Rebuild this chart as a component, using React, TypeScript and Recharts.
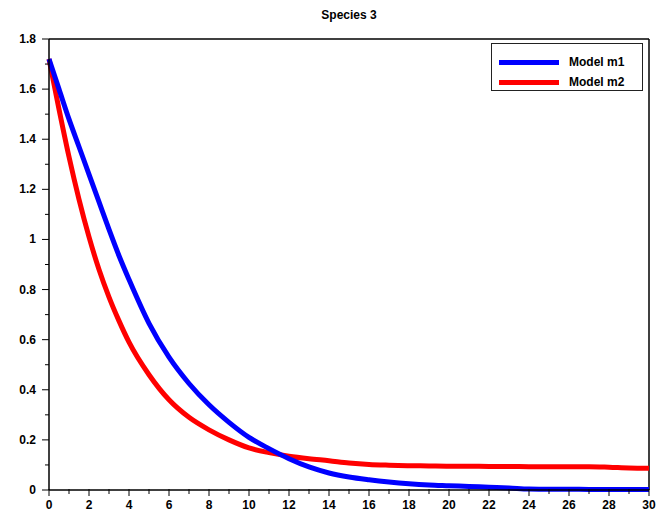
import { Legend, Line, LineChart, ReferenceLine, XAxis, YAxis } from 'recharts';

// time points (extra half steps where the curves bend fast)
const time = [0, 0.5, 1, 1.5, 2, 2.5, 3, 3.5, 4, 5, 6, 7, 8, 9, 10, 11, 12, 13, 14, 15, 16, 17, 18, 19, 20, 21, 22, 23, 24, 25, 26, 27, 28, 29, 30];
const modelM1 = [1.72, 1.6, 1.48, 1.37, 1.26, 1.15, 1.04, 0.935, 0.84, 0.665, 0.53, 0.425, 0.34, 0.27, 0.21, 0.165, 0.125, 0.092, 0.068, 0.052, 0.041, 0.032, 0.025, 0.02, 0.017, 0.014, 0.011, 0.008, 0.004, 0.003, 0.003, 0.002, 0.002, 0.002, 0.002];
const modelM2 = [1.72, 1.52, 1.33, 1.16, 1.01, 0.88, 0.77, 0.675, 0.59, 0.46, 0.36, 0.29, 0.24, 0.2, 0.168, 0.149, 0.135, 0.125, 0.117, 0.108, 0.102, 0.099, 0.097, 0.096, 0.095, 0.095, 0.094, 0.094, 0.093, 0.093, 0.093, 0.093, 0.091, 0.088, 0.087];

const xTicks = [0, 1, 2, 3, 4, 5, 6, 7, 8, 9, 10, 11, 12, 13, 14, 15, 16, 17, 18, 19, 20, 21, 22, 23, 24, 25, 26, 27, 28, 29, 30];
const yTicks = [0, 0.1, 0.2, 0.3, 0.4, 0.5, 0.6, 0.7, 0.8, 0.9, 1, 1.1, 1.2, 1.3, 1.4, 1.5, 1.6, 1.7, 1.8];

const data = time.map((t, i) => ({ t, m1: modelM1[i], m2: modelM2[i] }));

const font = '"Liberation Sans", Arial, sans-serif';

function XTick({ x, y, payload }: any) {
  const v = payload.value;
  const major = Math.round(v) % 2 === 0;
  return (
    <g>
      <line x1={x} x2={x} y1={y - 1} y2={y + (major ? 6 : 4)} stroke="#000" />
      {major && (
        <text x={x} y={y + 19} textAnchor="middle" fontSize={12} fontWeight="bold" fontFamily={font} fill="#000">
          {v}
        </text>
      )}
    </g>
  );
}

function YTick({ x, y, payload }: any) {
  const v = payload.value;
  const major = Math.round(v * 10) % 2 === 0;
  return (
    <g>
      <line x1={x - (major ? 7 : 4)} x2={x} y1={y} y2={y} stroke="#000" />
      {major && (
        <text x={x - 13} y={y + 4} textAnchor="end" fontSize={12} fontWeight="bold" fontFamily={font} fill="#000">
          {Number(v.toFixed(1)).toString()}
        </text>
      )}
    </g>
  );
}

function LegendBox() {
  const items = [
    { name: 'Model m1', color: '#0000ff' },
    { name: 'Model m2', color: '#ff0000' },
  ];
  return (
    <div style={{ border: '1.5px solid #222', background: '#fff', width: 152, height: 48, boxSizing: 'border-box', padding: '8px 0 0 7px' }}>
      {items.map((it) => (
        <div key={it.name} style={{ display: 'flex', alignItems: 'center', height: 20 }}>
          <div style={{ width: 60, height: 5, background: it.color }} />
          <span style={{ marginLeft: 10, fontFamily: font, fontWeight: 'bold', fontSize: 12, color: '#000' }}>{it.name}</span>
        </div>
      ))}
    </div>
  );
}

export default function App() {
  return (
    <div style={{ position: 'absolute', left: 0, top: 0, width: 666, height: 517, background: '#fff' }}>
      <div style={{ position: 'absolute', left: 49, width: 600, top: 8, textAlign: 'center', fontFamily: font, fontWeight: 'bold', fontSize: 12 }}>
        Species 3
      </div>
      <LineChart width={666} height={517} data={data} margin={{ top: 39, right: 17, bottom: 0, left: 0 }}>
        <XAxis
          dataKey="t"
          type="number"
          domain={[0, 30]}
          ticks={xTicks}
          interval={0}
          height={27}
          tickSize={0}
          tickMargin={0}
          tick={<XTick />}
          stroke="#000"
          strokeWidth={1.5}
        />
        <YAxis
          type="number"
          domain={[0, 1.8]}
          ticks={yTicks}
          interval={0}
          width={49}
          tickSize={0}
          tickMargin={0}
          tick={<YTick />}
          stroke="#000"
          strokeWidth={1.5}
        />
        <ReferenceLine y={1.8} stroke="#000" strokeWidth={1.5} />
        <ReferenceLine x={30} stroke="#000" strokeWidth={1.5} />
        <Line type="monotone" dataKey="m2" stroke="#ff0000" strokeWidth={5} dot={false} isAnimationActive={false} />
        <Line type="monotone" dataKey="m1" stroke="#0000ff" strokeWidth={5} dot={false} isAnimationActive={false} />
        <Legend
          layout="vertical"
          align="center"
          verticalAlign="middle"
          content={<LegendBox />}
          wrapperStyle={{ position: 'absolute', left: 491, top: 43, width: 152 }}
        />
      </LineChart>
    </div>
  );
}
